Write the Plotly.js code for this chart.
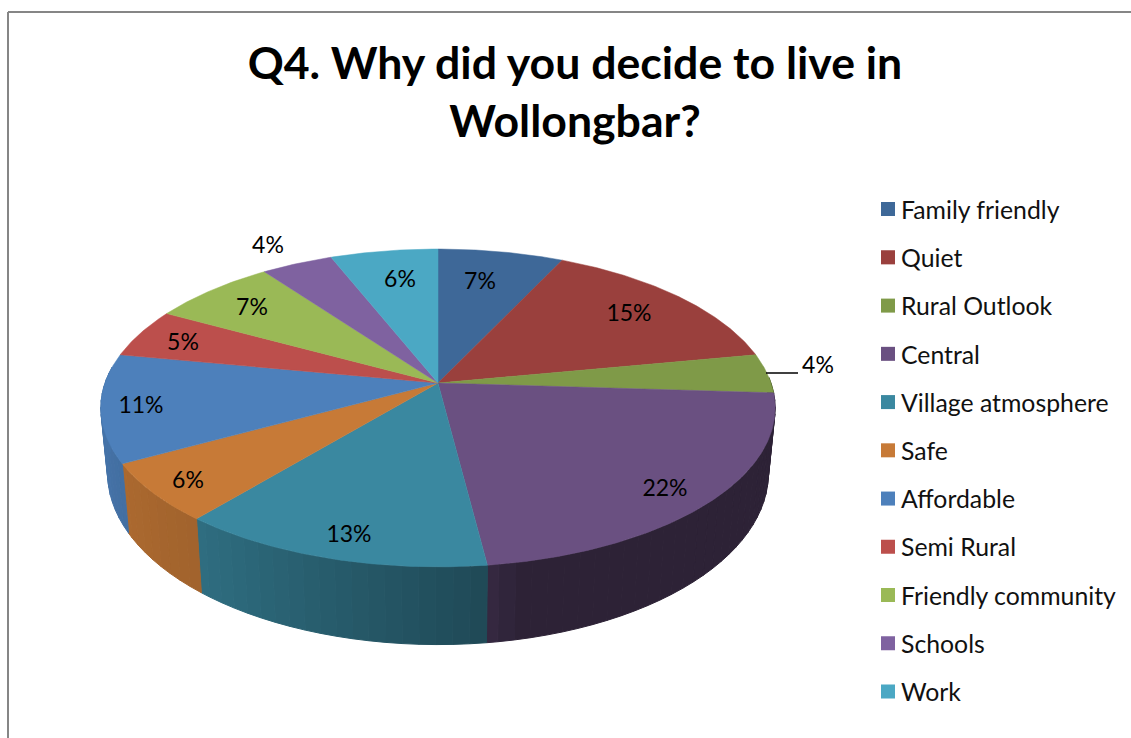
<!DOCTYPE html>
<html>
<head>
<meta charset="utf-8">
<script src="https://cdn.plot.ly/plotly-3.0.1.min.js"></script>
<style>
html,body{margin:0;padding:0;background:#fff;overflow:hidden}
#chart{width:1131px;height:738px}
.legend .legendpoints{transform:translateX(7px)}
</style>
</head>
<body>
<div id="chart"></div>
<script>
var categories = ["Family friendly","Quiet","Rural Outlook","Central","Village atmosphere","Safe","Affordable","Semi Rural","Friendly community","Schools","Work"];
var percents = [7,15,4,22,13,6,11,5,7,4,6];
var colors = ["#3e6898","#9a403d","#7f9a48","#6a5081","#3a88a0","#c77a37","#4d80bb","#bc4f4c","#9ab956","#7f62a0","#4ba8c4"];
var labelX = [480,629,818,665,349,188,141,183,252,268,400];
var labelY = [283,315,367,490,536,482,407,344,309,247,281];

var FONT = "Lato, Carlito, sans-serif";
var CX = 438, CY = 383, A = 333, B = 155, K = 0.157;
var DEPTH = 63, DY = 1.08, DX = 0.98;
var total = percents.reduce(function(a,b){return a+b;},0);

function topPt(deg){
  var t = deg*Math.PI/180, u = Math.sin(t), v = Math.cos(t), w = 1+K*v;
  return [CX + A*u/w, CY - B*v/w];
}
function botPt(deg){
  var p = topPt(deg);
  return [CX + DX*(p[0]-CX), CY + DEPTH + DY*(p[1]-CY)];
}
function rgb(hex,f){
  var n = parseInt(hex.slice(1),16);
  return "rgb("+Math.round((n>>16&255)*f)+","+Math.round((n>>8&255)*f)+","+Math.round((n&255)*f)+")";
}
function shade(deg){
  if(deg<168) return 0.42;
  if(deg<173) return 0.42+0.1*(deg-168)/5;
  if(deg<220) return 0.54+0.27*(deg-173)/47;
  return Math.min(0.9,0.81+0.07*(deg-220)/28);
}

var sideTraces = [], topTraces = [], legendTraces = [];
var start = 0;
percents.forEach(function(p,i){
  var end = start + p/total*360;
  var from = Math.max(start,88), to = Math.min(end,276), STEP = 2.5;
  for(var a=from;a<to;a+=STEP){
    var b = Math.min(a+STEP,to);
    var p1=topPt(a),p2=topPt(b),p3=botPt(b),p4=botPt(a);
    var col = rgb(colors[i],shade((a+b)/2));
    sideTraces.push({type:"scatter",mode:"lines",x:[p1[0],p2[0],p3[0],p4[0],p1[0]],y:[p1[1],p2[1],p3[1],p4[1],p1[1]],
      fill:"toself",fillcolor:col,line:{color:col,width:1},hoverinfo:"skip",showlegend:false});
  }
  var xs=[CX],ys=[CY];
  for(var d=start;d<end;d+=0.5){var q=topPt(d);xs.push(q[0]);ys.push(q[1]);}
  var e=topPt(end);xs.push(e[0]);ys.push(e[1]);xs.push(CX);ys.push(CY);
  topTraces.push({type:"scatter",mode:"lines",x:xs,y:ys,fill:"toself",fillcolor:colors[i],
    line:{color:colors[i],width:0.5},name:categories[i],text:categories[i]+": "+p+"%",hoverinfo:"text",showlegend:false});
  legendTraces.push({type:"scatter",mode:"markers",x:[null],y:[null],name:categories[i],legendgroup:"g"+i,
    marker:{symbol:"square",size:14,color:colors[i]},hoverinfo:"skip"});
  start = end;
});

var labelTrace = {type:"scatter",mode:"text",x:labelX,y:labelY,
  text:percents.map(function(p){return p+"%";}),textposition:"middle center",
  textfont:{family:FONT,size:23,color:"#000"},hoverinfo:"skip",showlegend:false};

var layout = {
  width:1131,height:738,margin:{l:0,r:0,t:0,b:0},
  paper_bgcolor:"#fff",plot_bgcolor:"#fff",
  title:{text:"<b>Q4. Why did you decide to live in<br>Wollongbar?</b>",x:575/1131,xanchor:"center",y:1-79/738,yanchor:"middle",
    font:{family:FONT,size:44.6,color:"#000"}},
  xaxis:{range:[0,1131],visible:false,fixedrange:true},
  yaxis:{range:[738,0],visible:false,fixedrange:true},
  showlegend:true,
  legend:{x:861/1131,xanchor:"left",y:1-186.5/738,yanchor:"top",tracegroupgap:13,bgcolor:"rgba(0,0,0,0)",
    font:{family:FONT,size:24.8,color:"#111"}},
  shapes:[
    {type:"line",xref:"x",yref:"y",x0:8,x1:8,y0:12,y1:738,line:{color:"#868686",width:2}},
    {type:"line",xref:"x",yref:"y",x0:8,x1:1131,y0:12,y1:12,line:{color:"#868686",width:2}},
    {type:"line",xref:"x",yref:"y",x0:766,x1:798,y0:373,y1:373,line:{color:"#000",width:1.5}}
  ]
};
Plotly.newPlot("chart",sideTraces.concat(topTraces,legendTraces,[labelTrace]),layout,{displayModeBar:false});
</script>
</body>
</html>
